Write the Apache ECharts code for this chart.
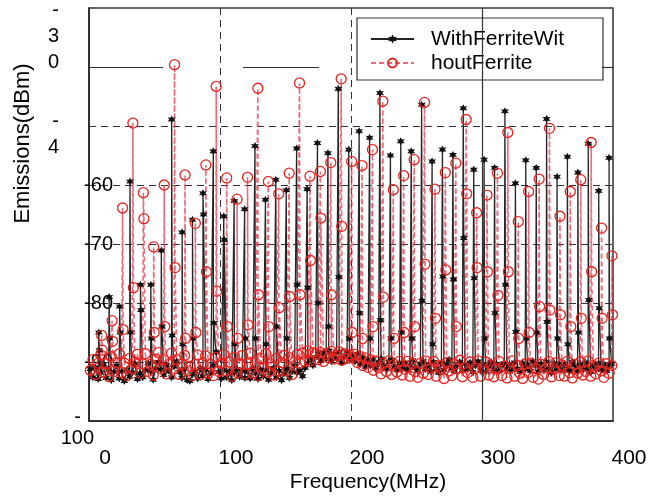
<!DOCTYPE html>
<html>
<head>
<meta charset="utf-8">
<script src="https://cdn.jsdelivr.net/npm/echarts@6/dist/echarts.min.js"></script>
<style>html,body{margin:0;padding:0;background:#fff}#chart{width:660px;height:497px}</style>
</head>
<body>
<div id="chart"></div>
<script>
// ---------------- data ----------------
const seriesNames = ['WithFerriteWit', 'houtFerrite'];
const xAxisName = 'Frequency(MHz)';
const yAxisName = 'Emissions(dBm)';
const xTickValues = [0, 100, 200, 300, 400];
const yTickValues = [-100, -90, -80, -70, -60, -50, -40, -30];
const yTickText = ['-\n100', '-90', '-80', '-70', '-60', '-\n4', '-\n3\n0', ''];

// harmonic (stem) frequencies, MHz
const harmonicFreq = [7.5, 15.4, 23.4, 31.3, 39.3, 47.2, 55.2, 63.1, 71.1, 79.0,
  87.0, 94.9, 102.9, 110.8, 118.8, 126.7, 134.7, 142.6, 150.6, 158.5,
  166.5, 174.4, 182.4, 190.3, 198.3, 206.2, 214.2, 222.1, 230.1, 238.0,
  246.0, 253.9, 261.9, 269.8, 277.8, 285.7, 293.7, 301.6, 309.6, 317.5,
  325.5, 333.4, 341.4, 349.3, 357.3, 365.2, 373.2, 381.1, 389.1, 397.0];
const withoutFreqShift = 2.2;   // the "without" stems sit slightly right
const shoulderOffset = 0.4;     // second sample on each stem

// With ferrite: stem peaks and second sample on each stem (dBm)
const withPeak = [-85, -79, -80.6, -59.4, -76.9, -76.9, -71.1, -48.9, -68, -65.9,
  -61.4, -54.3, -65.3, -62.7, -64.1, -53.4, -62.5, -59.1, -60.9, -53.8,
  -60.7, -52.9, -54.6, -43.7, -54.0, -50.9, -52.0, -44.4, -55.0, -52.6,
  -54.3, -46.4, -56.0, -54.0, -54.9, -47.0, -57.4, -55.7, -57.1, -47.5,
  -59.7, -55.8, -57.1, -48.8, -58.6, -55.2, -57.9, -53.0, -61.0, -55.4];
const withShoulder = [-88, -86, -85, -85, -81.2, -86, -84, -85.5, -87, -86,
  -65, -83.4, -69.3, -87, -86, -86, -87, -84, -86, -76.9,
  -77.4, -80, -84, -75.6, -86, -81.7, -86, -82.9, -86, -85,
  -86, -79.6, -87, -75.5, -76, -69, -75.8, -86, -81.7, -76.9,
  -84.9, -86, -85, -83.2, -86, -87, -85, -79.5, -80.9, -86];

// Without ferrite
const withoutPeak = [-85.5, -83, -63.9, -49.5, -61.3, -70.5, -60.0, -39.6, -58.3, -66.5,
  -56.6, -43.3, -58.8, -62.4, -58.7, -43.6, -59.4, -61.5, -58.0, -42.7,
  -58.5, -57.7, -56.2, -42.0, -56.0, -56.7, -54.0, -45.8, -60.8, -58.4,
  -55.7, -46.0, -60.7, -57.9, -56.3, -48.9, -64.7, -61.7, -58.0, -51.1,
  -66.2, -61.1, -59.0, -50.4, -65.3, -61.1, -59.1, -52.8, -67.3, -72.0];
const withoutShoulder = [-88, -86.5, -84.5, -77.4, -65.7, -85, -84, -74, -86, -85,
  -74.7, -78, -84, -86, -83.7, -78.6, -84, -80.8, -78.9, -78.6,
  -72.8, -65.6, -78.6, -67, -85, -86, -84, -79, -86, -85,
  -84, -73.4, -82.6, -74.4, -84, -61.5, -74, -74.7, -78.7, -74.7,
  -86, -85, -80.6, -81.2, -82, -84, -82.6, -74.7, -82.6, -82];

// noise floor samples between stems: 1, 3, 5, ... 399 MHz
const noiseStart = 1, noiseStep = 2;
const withNoise = [
  -91.2,-92.6,-91.0,-92.9,-91.8,-90.4,-92.7,-91.4,-93.1,-91.7,-90.6,-92.8,-91.6,-93.2,-91.3,-92.5,-91.8,-90.3,-92.9,-91.9,
  -92.6,-91.4,-90.2,-91.6,-93.0,-91.1,-90.0,-91.3,-92.2,-90.5,-91.5,-92.6,-90.8,-89.9,-91.7,-92.7,-91.2,-93.1,-93.2,-92.1,
  -91.6,-92.8,-91.1,-92.4,-91.3,-92.9,-91.8,-90.6,-88.3,-91.7,-92.8,-91.4,-92.6,-91.6,-93.1,-91.8,-91.2,-92.5,-91.5,-92.7,
  -91.7,-92.8,-91.1,-91.9,-92.9,-91.3,-92.4,-91.4,-93.0,-91.8,-91.0,-92.6,-91.5,-93.1,-91.9,-91.2,-92.7,-91.6,-90.6,-91.8,
  -91.4,-92.4,-91.0,-90.2,-89.6,-90.6,-89.2,-88.6,-89.8,-88.4,-89.5,-88.1,-89.9,-88.6,-89.4,-88.3,-90.1,-89.1,-88.3,-89.6,
  -89.0,-89.9,-88.6,-90.4,-89.3,-90.8,-89.7,-90.6,-89.5,-91.0,-90.1,-89.4,-90.7,-91.2,-90.0,-89.6,-90.9,-91.4,-90.2,-91.1,
  -90.1,-91.3,-90.6,-89.7,-91.0,-91.5,-90.3,-89.9,-91.2,-90.5,-91.6,-90.0,-91.1,-91.8,-90.2,-91.3,-90.4,-89.6,-91.1,-91.5,
  -90.5,-90.0,-91.4,-90.3,-91.2,-90.1,-91.7,-90.6,-89.9,-91.4,-90.4,-91.6,-90.7,-90.0,-91.3,-90.3,-91.5,-90.6,-90.2,-91.2,
  -90.4,-91.4,-90.1,-91.1,-91.7,-90.2,-91.2,-90.5,-91.5,-89.9,-90.6,-91.6,-90.3,-91.3,-90.0,-91.1,-91.8,-90.2,-91.2,-90.4,
  -91.4,-90.3,-91.1,-91.5,-90.0,-90.6,-91.6,-90.4,-91.3,-90.1,-91.1,-91.7,-90.5,-91.2,-90.2,-91.4,-90.4,-91.5,-90.6,-90.3];
const withoutNoise = [
  -91.4,-89.6,-92.1,-90.2,-88.8,-91.7,-90.3,-92.4,-89.1,-91.6,-90.1,-88.6,-91.8,-90.2,-92.3,-89.4,-91.1,-90.0,-88.7,-91.9,
  -90.3,-88.6,-91.6,-90.4,-92.2,-89.5,-88.4,-91.1,-89.6,-92.0,-90.4,-88.5,-91.2,-89.6,-92.1,-90.3,-88.9,-91.5,-90.7,-92.3,
  -90.4,-88.8,-92.1,-90.2,-89.0,-91.9,-90.4,-92.3,-89.2,-91.6,-90.2,-88.7,-91.5,-90.0,-92.4,-89.2,-91.8,-90.3,-88.9,-92.0,
  -90.3,-88.5,-91.9,-90.2,-92.3,-89.4,-91.0,-88.6,-91.7,-90.3,-92.2,-89.4,-91.6,-90.1,-88.9,-91.5,-89.3,-92.1,-90.0,-88.7,
  -90.2,-88.5,-89.9,-88.1,-89.8,-88.4,-88.6,-89.6,-88.4,-89.9,-88.7,-89.3,-88.2,-89.5,-88.9,-88.3,-89.7,-88.6,-89.4,-88.8,
  -89.2,-88.7,-90.1,-89.1,-90.6,-89.3,-90.9,-89.6,-91.4,-89.8,-91.0,-92.0,-90.2,-91.6,-89.8,-92.1,-90.4,-91.7,-89.9,-92.2,
  -91.2,-89.9,-92.4,-90.3,-91.6,-92.6,-90.2,-91.9,-89.8,-92.1,-91.0,-89.9,-92.4,-90.6,-91.2,-92.8,-90.1,-91.5,-92.3,-90.4,
  -91.1,-89.7,-92.5,-90.9,-91.8,-90.0,-92.6,-91.0,-89.8,-92.4,-91.2,-90.0,-92.2,-90.6,-92.5,-91.1,-89.9,-92.3,-90.7,-92.7,
  -91.0,-89.8,-92.4,-90.6,-91.9,-92.8,-90.3,-91.8,-90.2,-92.6,-91.1,-92.9,-90.4,-92.1,-91.0,-89.9,-92.5,-91.2,-90.1,-92.3,
  -90.5,-92.4,-89.9,-91.8,-92.7,-90.4,-91.9,-90.0,-92.2,-91.6,-89.8,-92.4,-90.6,-92.0,-90.2,-91.5,-92.6,-90.3,-91.9,-90.6];

// reference lines drawn solid in the original figure
const solidVerticalFreq = [300];
const solidLineLevel = -40;
const solidLineSpans = [[0, 56.5], [117.6, 175.6], [391.4, 400]];

// ---------------- build ----------------
function buildSeries(noise, peaks, shoulders, shift) {
  const pts = [];
  noise.forEach((v, i) => pts.push([noiseStart + noiseStep * i, v]));
  harmonicFreq.forEach((f, i) => {
    pts.push([f + shift, peaks[i]]);
    pts.push([f + shift + shoulderOffset, shoulders[i]]);
  });
  pts.sort((a, b) => a[0] - b[0]);
  return pts;
}

const yLabelRich = {
  st: {fontSize: 20, lineHeight: 26, padding: [0, 54, 0, 0]},
  sp62: {fontSize: 4, lineHeight: 62},
  sp17: {fontSize: 4, lineHeight: 17},
  sp13: {fontSize: 4, lineHeight: 13},
  dash: {fontSize: 20, lineHeight: 21, padding: [0, 32, 0, 0]},
  hund: {fontSize: 20, lineHeight: 21, padding: [0, 19, 0, 0]},
  plain: {fontSize: 20, lineHeight: 22}
};
function yLabel(v) {
  const i = yTickValues.indexOf(v);
  const t = i < 0 ? '' : yTickText[i];
  if (!t) return '';
  const lines = t.split('\n');
  if (lines.length === 3) return lines.map(s => '{st|' + s + '}').join('\n') + '\n{sp62| }';
  if (lines.length === 2 && lines[1] === '100') return '{sp13| }\n{dash|' + lines[0] + '}\n{hund|' + lines[1] + '}';
  if (lines.length === 2) return '{sp17| }\n' + lines.map(s => '{st|' + s + '}').join('\n');
  return '{plain|' + t + '}';
}

const starPath = 'path://M0,-10L2.6,-4.5L8.7,-5L5,0L8.7,5L2.6,4.5L0,10L-2.6,4.5L-8.7,5L-5,0L-8.7,-5L-2.6,-4.5Z';
const FONT = 'Liberation Sans';

const chart = echarts.init(document.getElementById('chart'), null, {renderer: 'canvas'});
chart.setOption({
  animation: false,
  backgroundColor: '#fff',
  textStyle: {fontFamily: FONT, color: '#000'},
  grid: {left: 89, top: 8, right: 47, bottom: 76, containLabel: false, outerBoundsMode: 'none',
         show: true, borderColor: '#333', borderWidth: 1.5, backgroundColor: 'transparent'},
  legend: {
    data: seriesNames,
    orient: 'vertical',
    left: 357, top: 18,
    padding: [9, 39, 5, 13],
    itemGap: 0,
    itemWidth: 43, itemHeight: 11,
    backgroundColor: '#fff',
    borderColor: '#333', borderWidth: 1.2, borderRadius: 0,
    textStyle: {fontFamily: FONT, fontSize: 21, color: '#000', lineHeight: 24, padding: [0, 0, 0, 12]},
    selectedMode: false
  },
  xAxis: {
    type: 'value', min: 0, max: 400, interval: 100,
    name: xAxisName, nameLocation: 'middle', nameGap: 51, nameMoveOverlap: false,
    nameTextStyle: {fontFamily: FONT, fontSize: 21, color: '#000', padding: [0, 0, 0, 34]},
    axisLine: {show: true, onZero: false, lineStyle: {color: '#222', width: 1.5}},
    axisTick: {show: false},
    axisLabel: {fontFamily: FONT, fontSize: 21, color: '#000', margin: 27, padding: [0, 0, 0, 32],
      formatter: v => (xTickValues.indexOf(v) >= 0 ? String(v) : '')},
    splitLine: {show: true, lineStyle: {color: ['rgba(0,0,0,0)', '#333', '#333', '#333', 'rgba(0,0,0,0)'], type: [7, 5], width: 1}}
  },
  yAxis: {
    type: 'value', min: -100, max: -30, interval: 10,
    name: yAxisName, nameLocation: 'middle', nameGap: 55, nameMoveOverlap: false,
    nameTextStyle: {fontFamily: FONT, fontSize: 22, color: '#000', padding: [0, 0, 0, 142]},
    axisLine: {show: true, onZero: false, lineStyle: {color: '#222', width: 1.5}},
    axisTick: {show: false},
    axisLabel: {fontFamily: FONT, color: '#000', margin: -24, align: 'right', formatter: yLabel, rich: yLabelRich},
    splitLine: {show: true, lineStyle: {
      color: ['rgba(0,0,0,0)', '#333', '#333', '#333', '#333', '#333', 'rgba(0,0,0,0)', 'rgba(0,0,0,0)'],
      type: [7, 5], width: 1}}
  },
  series: [
    {
      name: seriesNames[0], type: 'line',
      data: buildSeries(withNoise, withPeak, withShoulder, 0),
      symbol: starPath, symbolSize: 8, showSymbol: true, showAllSymbol: true,
      lineStyle: {color: '#262626', width: 1.3},
      itemStyle: {color: '#111'},
      emphasis: {disabled: true},
      markLine: {
        silent: true, symbol: 'none', label: {show: false},
        lineStyle: {color: '#333', type: 'solid', width: 1.2},
        data: solidVerticalFreq.map(f => ({xAxis: f})).concat(
          solidLineSpans.map(s => [{coord: [s[0], solidLineLevel]}, {coord: [s[1], solidLineLevel]}]))
      }
    },
    {
      name: seriesNames[1], type: 'line',
      data: buildSeries(withoutNoise, withoutPeak, withoutShoulder, withoutFreqShift),
      symbol: 'circle', symbolSize: 10, showSymbol: true, showAllSymbol: true,
      lineStyle: {color: 'rgba(224,50,70,0.72)', width: 1.6, type: [5, 3]},
      itemStyle: {color: 'rgba(255,255,255,0)', borderColor: '#e3241f', borderWidth: 1.3},
      emphasis: {disabled: true}
    }
  ]
});
</script>
</body>
</html>
